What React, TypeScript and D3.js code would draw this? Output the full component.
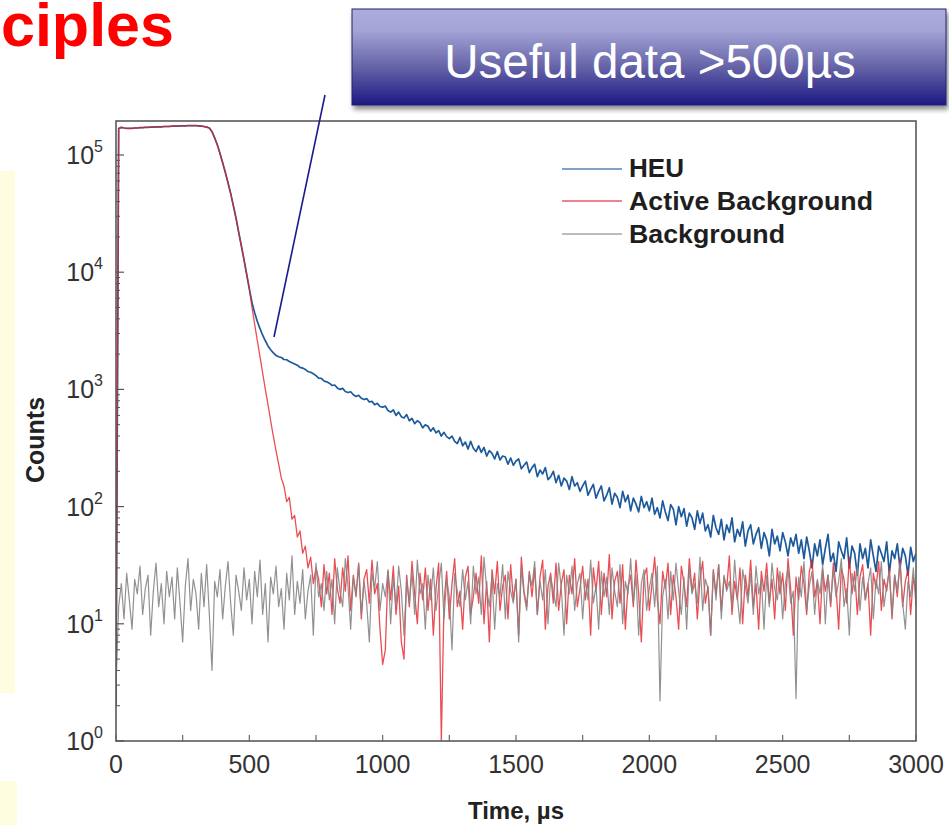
import React from 'react';
import * as d3 from 'd3';

// ---- data (counts per 10 µs bin) ----
const TIME_STEP_US = 10;
const X_TICKS = [0, 500, 1000, 1500, 2000, 2500, 3000];
const Y_DECADES = [0, 1, 2, 3, 4, 5];
const SERIES_NAMES = ['HEU', 'Active Background', 'Background'];

// shared neutron pulse, t = 0 .. 500 µs
const PULSE = [
  2, 168000,
  172000, 170000, 169000, 169000, 169000, 170000, 170000, 171000, 171000, 172000,
  172000, 173000, 173000, 174000, 174000, 174000, 175000, 175000, 175000, 176000,
  176000, 176000, 177000, 177000, 177000, 178000, 178000, 178000, 178000, 177000,
  176000, 175000, 173000,
  170000, 158000, 140000, 122000, 103000, 86000, 71000, 58000, 47000, 37000, 29000, 22000, 16800, 12800, 9600, 7200,
];

// HEU, t = 510 .. 3000 µs
const HEU_TAIL = [
  5500, 4500, 3800, 3300, 2900, 2600, 2350, 2180, 2050,
  1950, 1900, 1870, 1800, 1790, 1730, 1690, 1650, 1610, 1540, 1520,
  1480, 1420, 1400, 1360, 1310, 1250, 1240, 1180, 1160,
  1130, 1080, 1090, 1030, 1000, 1020, 960, 940, 955, 900, 870, 890, 840, 820, 835, 780, 790, 740, 760, 715, 705,
  720, 660, 640, 670, 600, 640, 585, 570, 610, 540, 565, 510, 540, 520, 470, 500, 485, 440, 470, 425, 445, 400, 430, 395, 380,
  400, 360, 345, 390, 330, 355, 310, 360, 315, 295, 330, 290, 320, 270, 300, 285, 255, 295, 250, 270, 265, 230, 260, 225, 245,
  255, 210, 225, 240, 195, 215, 230, 180, 205, 190, 215, 170, 180, 200, 160, 185, 150, 175, 165, 140, 180, 150, 160, 135, 150,
  165, 125, 140, 155, 118, 135, 150, 112, 125, 145, 105, 130, 120, 98, 135, 110, 125, 92, 118, 105, 90, 122, 98, 110, 92,
  118, 86, 98, 80, 112, 90, 76, 104, 95, 70, 100, 82, 96, 68, 88, 80, 64, 92, 72,
  88, 62, 70, 55, 84, 66, 58, 78, 52, 70, 60, 80, 50, 64, 56, 74, 46, 62, 70, 48,
  58, 66, 44, 60, 52, 38, 64, 48, 56, 42, 60, 50, 38, 54, 46, 58, 40, 52,
  36, 55, 42, 30, 48, 38, 52, 32, 44, 58, 34, 40, 28, 50, 42, 36, 54, 30, 46, 40,
  26, 48, 36, 44, 30, 52, 38, 28, 46, 40, 34, 50, 27, 42, 36, 48, 30, 44, 38, 26,
  45, 34, 40,
];

// Active background, t = 510 .. 3000 µs
const ACTIVE_TAIL = [
  5000, 3600, 2600, 1900, 1380, 1000, 740, 540, 400,
  300, 230, 175, 150, 110, 120, 78, 84, 55, 62, 40, 46, 30, 37, 22, 30,
  24, 14, 32, 18, 27, 12, 36, 20, 15, 30,
  19, 38, 13, 26, 17, 33, 11, 24, 29, 15,
  35, 18, 22, 9, 4.5, 6, 28, 16, 31, 12,
  21, 7, 5, 26, 14, 34, 18, 10, 27, 16,
  30, 13, 24, 8, 20, 33, 1, 15, 28, 11,
  22, 36, 14, 19, 9, 25, 31, 12, 17, 27,
  15, 38, 10, 23, 7, 29, 18, 34, 13, 21,
  26, 11, 32, 16, 24, 8, 37, 19, 14, 28,
  17, 30, 12, 25, 35, 9, 21, 27, 15, 33,
  13, 22, 29, 10, 26, 18, 36, 14, 20, 31,
  16, 24, 8, 30, 19, 34, 12, 27, 17, 39,
  11, 23, 28, 15, 32, 9, 21, 26, 14, 35,
  18, 7, 25, 30, 13, 22, 37, 16, 10, 28,
  20, 33, 12, 26, 17, 9, 31, 22, 14, 36,
  19, 27, 11, 24, 34, 15, 21, 8, 29, 18,
  32, 13, 25, 20, 38, 12, 23, 16, 30, 10,
  26, 17, 35, 14, 22, 9, 28, 19, 33, 15,
  24, 11, 30, 18, 27, 13, 36, 20, 8, 25,
  16, 31, 22, 12, 28, 35, 17, 23, 10, 29,
  19, 26, 14, 33, 21, 9, 30, 24, 15, 37,
  18, 28, 12, 25, 32, 16, 22, 8, 27, 20,
  34, 13, 24, 19, 30, 11, 26, 17, 36, 14,
  23, 29, 12, 25, 18,
];

// passive background, t = 0 .. 3000 µs
const BACKGROUND = [
  3, 14, 22, 11, 27, 16, 9, 24, 18, 31,
  12, 20, 26, 8, 19, 33, 14, 22, 10, 28,
  17, 25, 11, 30, 15, 7, 21, 36, 13, 24,
  18, 9, 27, 14, 32, 12, 4, 23, 17, 29,
  11, 21, 34, 15, 8, 26, 19, 13, 30, 16,
  24, 10, 28, 17, 35, 12, 22, 7, 25, 18,
  31, 14, 20, 9, 27, 16, 38, 12, 23, 15,
  29, 11, 19, 26, 8, 33, 17, 22, 13, 28,
  16, 24, 10, 30, 19, 14, 36, 21, 9, 25,
  18, 32, 12, 23, 15, 7, 27, 20, 34, 13,
  22, 17, 29, 10, 25, 14, 31, 19, 8, 24,
  15, 28, 12, 35, 18, 22, 9, 26, 16, 30,
  13, 21, 33, 11, 24, 17, 6, 27, 19, 14,
  29, 16, 23, 10, 31, 18, 25, 12, 37, 20,
  14, 26, 9, 22, 17, 32, 11, 28, 19, 15,
  24, 7, 30, 18, 13, 27, 21, 34, 12, 23,
  16, 29, 10, 25, 19, 14, 33, 20, 8, 26,
  18, 31, 13, 22, 27, 11, 24, 16, 35, 15,
  21, 9, 28, 17, 25, 12, 30, 19, 14, 32,
  10, 23, 18, 36, 15, 26, 8, 22, 29, 13,
  20, 27, 14, 31, 2.2, 17, 24, 11, 28, 16,
  33, 19, 12, 25, 9, 30, 18, 22, 15, 37,
  13, 24, 20, 8, 28, 16, 32, 11, 26, 19,
  23, 14, 35, 17, 10, 29, 21, 15, 27, 12,
  31, 18, 24, 9, 26, 14, 33, 20, 16, 28,
  11, 22, 30, 15, 19, 2.3, 25, 17, 34, 13,
  21, 28, 12, 24, 18, 32, 10, 26, 15, 29,
  17, 23, 36, 14, 20, 8, 27, 19, 31, 13,
  25, 16, 22, 30, 11, 24, 18, 34, 14, 21,
  28, 12, 26, 19, 33, 15, 9, 23, 17, 30,
  14,
];

const HEU = [...PULSE, ...HEU_TAIL];
const ACTIVE = [...PULSE, ...ACTIVE_TAIL];

const COLORS = { heu: '#1d5a9c', active: '#e52229', bg: '#858585' };
const FONT = "'Liberation Sans', Arial, Helvetica, sans-serif";

export default function App() {
  const W = 949;
  const H = 825;
  const left = 116, right = 916, top = 121, bottom = 741;
  const x = d3.scaleLinear().domain([0, 3000]).range([left, right]);
  const y = d3.scaleLog().domain([1, 195000]).range([bottom, top]);
  const line = d3
    .line<number>()
    .x((_, i) => x(i * TIME_STEP_US))
    .y((d) => y(Math.max(d, 1)));

  const xMinor = d3.range(0, 3001, 250);
  const yMinor: number[] = [];
  Y_DECADES.forEach((e) => {
    for (let k = 2; k <= 9; k++) {
      const v = k * Math.pow(10, e);
      if (v < 195000) yMinor.push(v);
    }
  });

  const legendRows = [
    { name: SERIES_NAMES[0], color: COLORS.heu, ly: 169, ty: 177, len: 55 },
    { name: SERIES_NAMES[1], color: COLORS.active, ly: 201, ty: 210, len: 244 },
    { name: SERIES_NAMES[2], color: COLORS.bg, ly: 234, ty: 243, len: 156 },
  ];

  return (
    <svg
      width={W}
      height={H}
      viewBox={`0 0 ${W} ${H}`}
      style={{ position: 'absolute', left: 0, top: 0, background: '#fff' }}
      fontFamily={FONT}
    >
      <defs>
        <clipPath id="plotClip">
          <rect x={left} y={top} width={right - left} height={bottom - top} />
        </clipPath>
        <linearGradient id="boxGrad" x1="0" y1="0" x2="0" y2="1">
          <stop offset="0" stopColor="#acacde" />
          <stop offset="0.22" stopColor="#a4a4d7" />
          <stop offset="0.6" stopColor="#6664a8" />
          <stop offset="1" stopColor="#1c1984" />
        </linearGradient>
        <filter id="shadow" x="-5%" y="-10%" width="115%" height="135%">
          <feDropShadow dx="2" dy="4" stdDeviation="2.5" floodColor="#000" floodOpacity="0.45" />
        </filter>
      </defs>

      <rect x={0} y={0} width={W} height={H} fill="#fff" />

      {/* pale yellow slide strips on the left */}
      <rect x={0} y={171} width={15} height={522} fill="#fffde0" />
      <rect x={0} y={781} width={17} height={44} fill="#fffde0" />

      {/* slide title fragment */}
      <text x={1} y={46} fill="#ff0000" fontSize={61} fontWeight="bold">
        ciples
      </text>

      {/* series */}
      <g clipPath="url(#plotClip)" fill="none" strokeLinejoin="round">
        <path d={line(HEU) || ''} stroke={COLORS.heu} strokeWidth={1.7} />
        <path d={line(ACTIVE) || ''} stroke={COLORS.active} strokeWidth={1.3} strokeOpacity={0.8} />
        <path d={line(BACKGROUND) || ''} stroke={COLORS.bg} strokeWidth={1.2} strokeOpacity={0.9} />
      </g>

      {/* frame */}
      <rect x={left} y={top} width={right - left} height={bottom - top} fill="none" stroke="#5a5a5a" strokeWidth={1.6} />

      {/* x ticks (inside) */}
      {xMinor.map((t) => (
        <line key={'xm' + t} x1={x(t)} x2={x(t)} y1={bottom} y2={bottom - 6} stroke="#666" strokeWidth={1.2} />
      ))}
      {X_TICKS.map((t) => (
        <text key={'xl' + t} x={x(t)} y={773} textAnchor="middle" fontSize={25} fill="#333">
          {t}
        </text>
      ))}

      {/* y ticks (inside) */}
      {yMinor.map((v) => (
        <line key={'ym' + v} x1={left} x2={left + 4} y1={y(v)} y2={y(v)} stroke="#555" strokeWidth={1} />
      ))}
      {Y_DECADES.map((e) => (
        <g key={'yd' + e}>
          <line x1={left} x2={left + 8} y1={y(Math.pow(10, e))} y2={y(Math.pow(10, e))} stroke="#555" strokeWidth={1.2} />
          <text x={103} y={y(Math.pow(10, e)) + 9} textAnchor="end" fontSize={25} fill="#333">
            <tspan>10</tspan>
            <tspan dy={-12} fontSize={16}>
              {e}
            </tspan>
          </text>
        </g>
      ))}

      {/* axis titles */}
      <text x={516} y={819} textAnchor="middle" fontSize={24} fontWeight="bold" fill="#222">
        Time, µs
      </text>
      <text
        transform={`translate(44, ${(top + bottom) / 2 + 9}) rotate(-90)`}
        textAnchor="middle"
        fontSize={25}
        fontWeight="bold"
        fill="#222"
      >
        Counts
      </text>

      {/* legend */}
      {legendRows.map((r) => (
        <g key={r.name}>
          <line x1={562} x2={622} y1={r.ly} y2={r.ly} stroke={r.color} strokeWidth={1.4} strokeOpacity={0.75} />
          <text
            x={629}
            y={r.ty}
            fontSize={25.5}
            fontWeight="bold"
            fill="#1e1e1e"
            textLength={r.len}
            lengthAdjust="spacingAndGlyphs"
          >
            {r.name}
          </text>
        </g>
      ))}

      {/* annotation */}
      <line x1={325} y1={95} x2={274} y2={337} stroke="#1a1a8c" strokeWidth={1.6} />
      <rect x={352} y={9} width={594} height={96} fill="url(#boxGrad)" stroke="#24236e" strokeWidth={1} filter="url(#shadow)" />
      <text x={650} y={78} textAnchor="middle" fontSize={47.5} fill="#ffffff">
        Useful data &gt;500µs
      </text>
    </svg>
  );
}
